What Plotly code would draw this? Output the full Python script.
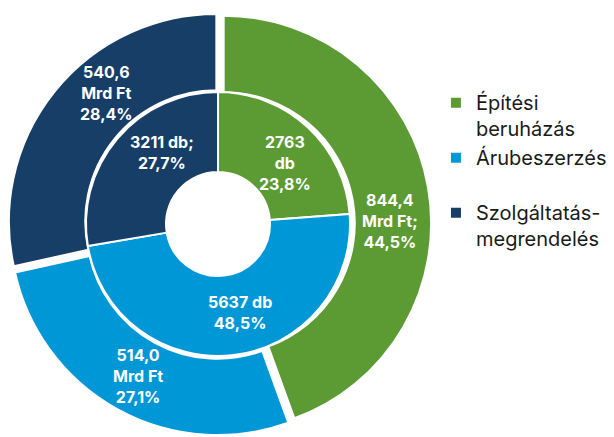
import math
import plotly.graph_objects as go

categories = ["Építési<br>beruházás", "Árubeszerzés<br>\u00a0", "Szolgáltatás-<br>megrendelés"]
colors = ["#5c9a34", "#0097d6", "#173e67"]

value_mrdft = [844.4, 514.0, 540.6]
pct_mrdft = ["44,5%", "27,1%", "28,4%"]
value_text_mrdft = ["844,4<br>Mrd Ft;", "514,0<br>Mrd Ft", "540,6<br>Mrd Ft"]

count_db = [2763, 5637, 3211]
pct_db = ["23,8%", "48,5%", "27,7%"]
value_text_db = ["2763<br>db", "5637 db", "3211 db;"]

# layout: label angle nudges (degrees) to mimic the original label placement
nudge_out = [9, -1, 11]
nudge_in = [5, -7, 12]

W, H = 614, 437
off = 8  # page body margin in the browser
cx, cy = 218 - off, 224 - off
r_out, r_in, r_hole = 209, 132, 52
pull = 0.02
r_dom = r_out * (1 + pull)


def clamp(v):
    return min(1.0, max(0.0, v))


def dom(r):
    return dict(x=[clamp((cx - r) / W), clamp((cx + r) / W)],
                y=[clamp((H - cy - r) / H), clamp((H - cy + r) / H)])


def label_annotations(values, texts, pcts, radius, nudges):
    total = sum(values)
    anns = []
    cum = 0.0
    for v, t, p, n in zip(values, texts, pcts, nudges):
        mid = (cum + v / 2) / total * 2 * math.pi + math.radians(n)
        cum += v
        x = cx + radius * math.sin(mid)
        y = cy - radius * math.cos(mid)
        anns.append(dict(x=x / W, y=1 - y / H, xref="paper", yref="paper",
                         xanchor="center", yanchor="middle", align="center",
                         text=f"{t}<br>{p}", showarrow=False,
                         font=dict(family="Inter", size=16, color="white", weight="bold")))
    return anns


fig = go.Figure()
fig.add_trace(go.Pie(
    labels=categories, values=value_mrdft, sort=False, direction="clockwise", rotation=0,
    hole=0.632, pull=[pull] * 3,
    marker=dict(colors=colors, line=dict(color="white", width=2)),
    textinfo="none",
    domain=dom(r_dom),
    hoverinfo="skip",
))
fig.add_trace(go.Pie(
    labels=categories, values=count_db, sort=False, direction="clockwise", rotation=0,
    hole=r_hole / r_in,
    marker=dict(colors=colors, line=dict(color="white", width=2)),
    textinfo="none",
    domain=dom(r_in),
    hoverinfo="skip",
    showlegend=False,
))
annotations = (label_annotations(value_mrdft, value_text_mrdft, pct_mrdft, 172, nudge_out)
               + label_annotations(count_db, value_text_db, pct_db, 91, nudge_in))
fig.update_layout(
    width=W, height=H,
    margin=dict(l=0, r=0, t=0, b=0),
    paper_bgcolor="white", plot_bgcolor="white",
    showlegend=True,
    annotations=annotations,
    legend=dict(x=0.697, y=0.828, xanchor="left", yanchor="top", valign="top",
                font=dict(family="Inter", size=20, color="#1a1a1a"),
                bgcolor="rgba(0,0,0,0)"),
)
fig.write_html("out.html")
